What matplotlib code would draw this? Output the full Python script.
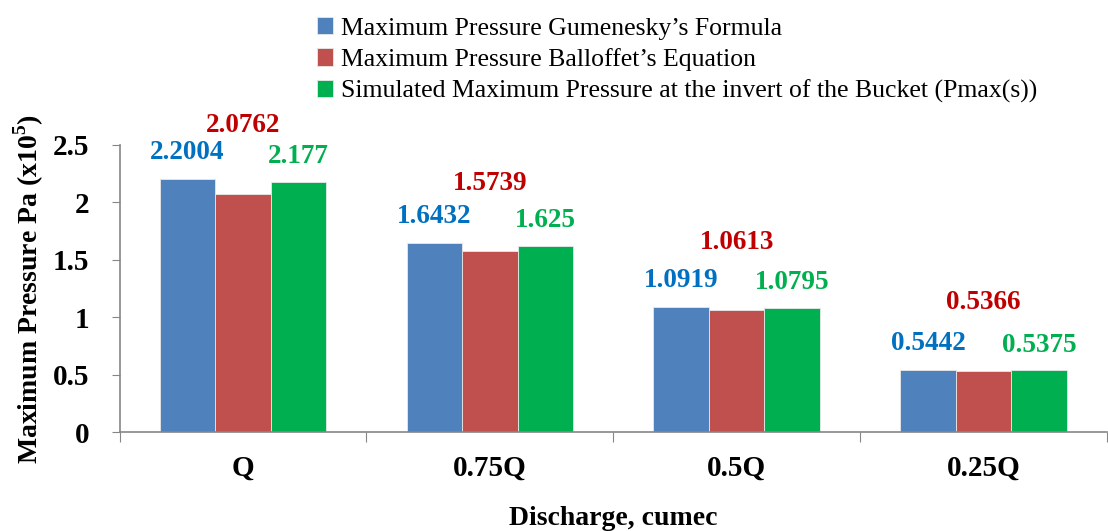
import numpy as np
import matplotlib.pyplot as plt
from matplotlib.ticker import FixedLocator, NullFormatter

categories = ["Q", "0.75Q", "0.5Q", "0.25Q"]
gumenesky = [2.2004, 1.6432, 1.0919, 0.5442]
balloffet = [2.0762, 1.5739, 1.0613, 0.5366]
simulated = [2.177, 1.625, 1.0795, 0.5375]
series_names = [
    "Maximum Pressure Gumenesky\u2019s Formula",
    "Maximum Pressure Balloffet\u2019s Equation",
    "Simulated Maximum Pressure at the invert of the Bucket (Pmax(s))",
]
yticks = [0, 0.5, 1, 1.5, 2, 2.5]
ytick_labels = ["0", "0.5", "1", "1.5", "2", "2.5"]

bar_colors = ["#4F81BD", "#C0504D", "#00B050"]
label_colors = ["#0070C0", "#C00000", "#00B050"]
label_offsets = [0.23, 0.59, 0.22]

plt.rcParams["font.family"] = ["Liberation Serif", "DejaVu Serif"]
plt.rcParams["mathtext.fontset"] = "custom"
plt.rcParams["mathtext.rm"] = "Liberation Serif"
plt.rcParams["mathtext.bf"] = "Liberation Serif:bold"

fig = plt.figure(figsize=(11.08, 5.31), dpi=100)
ax = fig.add_axes([0.108, 0.186, 0.891, 0.541])

x = np.arange(len(categories))
w = 0.225
for i, vals in enumerate([gumenesky, balloffet, simulated]):
    pos = x + (i - 1) * w
    ax.bar(pos, vals, width=w, color=bar_colors[i], edgecolor="#E8E8E8",
           linewidth=0.6, label=series_names[i], zorder=2)
    for p, v in zip(pos, vals):
        ax.text(p, v + label_offsets[i], f"{v:g}", ha="center", va="center",
                color=label_colors[i], fontsize=19.5, fontweight="bold")

ax.set_xlim(-0.5, len(categories) - 0.5)
ax.set_ylim(0, 2.5)
ax.set_yticks(yticks)
ax.set_yticklabels(ytick_labels, fontsize=21, fontweight="bold")

# boundary ticks on x, labels at centres
ax.xaxis.set_major_locator(FixedLocator(np.arange(-0.5, len(categories) - 0.4, 1.0)))
ax.xaxis.set_major_formatter(NullFormatter())
ax.set_xticks(x, minor=True)
ax.set_xticklabels(categories, minor=True, fontsize=21, fontweight="bold")
ax.tick_params(axis="x", which="major", direction="out", length=7, color="#868686")
ax.tick_params(axis="x", which="minor", length=0, pad=16)
ax.tick_params(axis="y", direction="out", length=6, color="#868686", pad=16)

for s in ["top", "right"]:
    ax.spines[s].set_visible(False)
for s in ["left", "bottom"]:
    ax.spines[s].set_color("#868686")
    ax.spines[s].set_linewidth(1.2)

ax.set_ylabel("Maximum Pressure Pa (x10$^{\\mathbf{5}}$)", fontsize=20,
              fontweight="bold", labelpad=5)
ax.set_xlabel("Discharge, cumec", fontsize=20, fontweight="bold", labelpad=18)

fig.legend(loc="upper left", bbox_to_anchor=(0.272, 0.997), frameon=False,
           fontsize=18.5, handlelength=0.65, handleheight=0.65, handletextpad=0.3,
           labelspacing=0.33, borderaxespad=0.2)

fig.savefig("out.png", dpi=100)
